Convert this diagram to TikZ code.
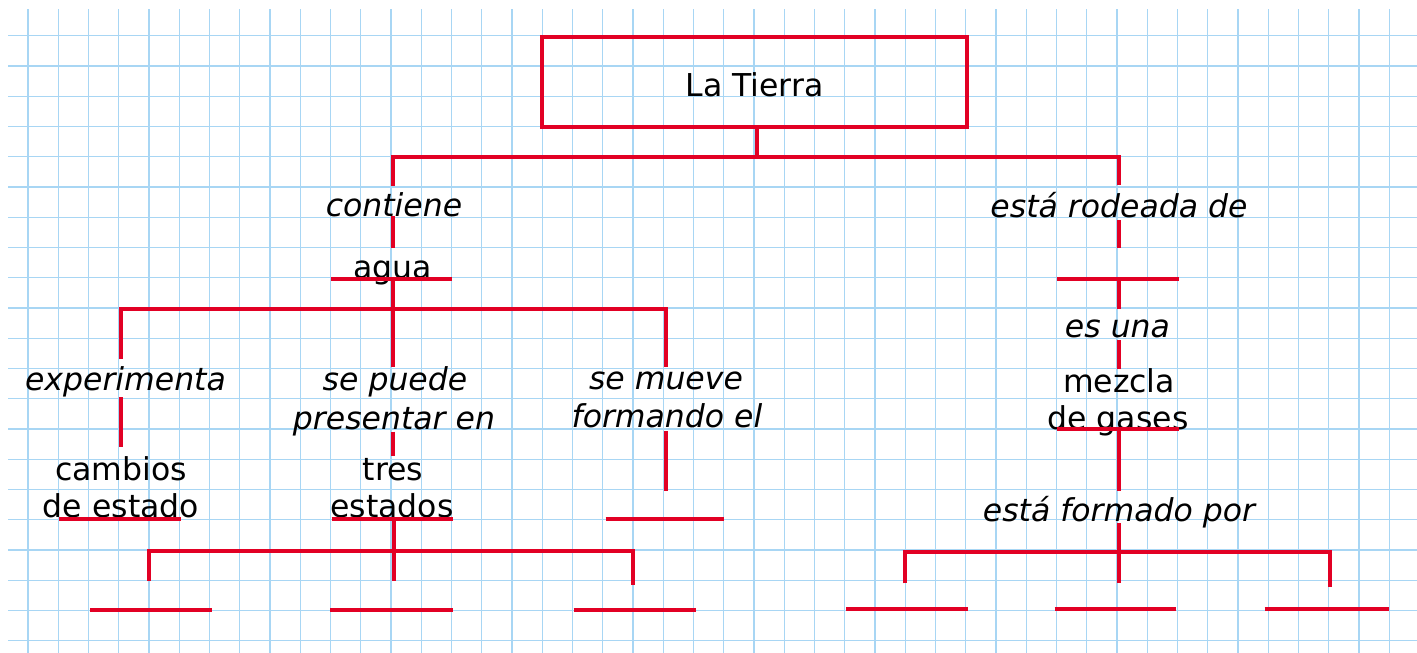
\documentclass[tikz,border=0pt]{standalone}
\usepackage{fontspec}
\setmainfont{DejaVu Sans}
\definecolor{gridblue}{RGB}{168,214,244}
\definecolor{mapred}{RGB}{226,0,36}
\tikzset{
  gridline/.style={draw=gridblue, line width=1.3pt},
  redline/.style={draw=mapred, line width=4pt, line join=miter},
  concept/.style={font=\fontsize{31.5pt}{37pt}\selectfont, inner sep=0pt, anchor=base},
  linkword/.style={concept, font=\fontsize{31.5pt}{37pt}\selectfont\itshape},
}
\begin{document}
\begin{tikzpicture}[x=1pt,y=-1pt]
\useasboundingbox (0,0) rectangle (1417,653);
\fill[white] (0,0) rectangle (1417,653);
% grid
\foreach \k in {0,...,20} {\draw[gridline] (8,35.7+30.25*\k) -- (1417,35.7+30.25*\k);}
\foreach \k in {0,...,45} {\draw[gridline] (28+30.25*\k,9) -- (28+30.25*\k,653);}

% root box
\node[draw=mapred, line width=4pt, minimum width=425pt, minimum height=90pt, inner sep=0pt] (box) at (754.5,82) {};
\node[concept] (tierra) at (754.5,96) {La Tierra};

% text nodes
\node[linkword] (contiene) at (394,216) {contiene};
\node[concept] (agua) at (392.5,278) {agua};
\node[linkword] (experimenta) at (125.5,390) {experimenta};
\node[concept] (cambios) at (121,480) {cambios};
\node[concept] (deestado) at (121,517) {de estado};
\node[linkword] (sepuede) at (395,390) {se puede};
\node[linkword] (presentar) at (394,429) {presentar en};
\node[concept] (tres) at (393,480) {tres};
\node[concept] (estados) at (392,517) {estados};
\node[linkword] (semueve) at (666,389) {se mueve};
\node[linkword] (formando) at (667,427) {formando el};
\node[linkword] (rodeada) at (1119,217) {está rodeada de};
\node[linkword] (esuna) at (1117.5,337) {es una};
\node[concept] (mezcla) at (1119,392) {mezcla};
\node[concept] (gases) at (1118,429) {de gases};
\node[linkword] (formado) at (1119,521) {está formado por};

% left branch
\draw[redline] (756.7,127) -- (756.7,156.7);
\draw[redline] (393.3,185.7) -- (393.3,156.7) -- (1119,156.7) -- (1119,185);
\draw[redline] (393.3,216) -- (393.3,247.7);
\draw[redline] (330.7,279.3) -- (452.3,279.3);
\draw[redline] (393.3,279.3) -- (393.3,308.7);
\draw[redline] (120.7,359) -- (120.7,308.7) -- (665.7,308.7) -- (665.7,367.3);
\draw[redline] (393.3,308.7) -- (393.3,366.7);
\draw[redline] (120.7,397.3) -- (120.7,446.7);
\draw[redline] (59.3,519.3) -- (180.7,519.3);
\draw[redline] (393.3,431.7) -- (393.3,455.7);
\draw[redline] (331.7,519.3) -- (453.3,519.3);
\draw[redline] (665.7,431) -- (665.7,491.3);
\draw[redline] (605.7,519.3) -- (724,519.3);
\draw[redline] (393.5,519.3) -- (393.5,550.7);
\draw[redline] (149,581) -- (149,550.7) -- (633,550.7) -- (633,585);
\draw[redline] (393.5,550.7) -- (393.5,581);
\draw[redline] (90.2,609.7) -- (211.6,609.7);
\draw[redline] (330.4,609.7) -- (452.7,609.7);
\draw[redline] (573.7,609.7) -- (695.5,609.7);

% right branch
\draw[redline] (1119,220) -- (1119,248.3);
\draw[redline] (1056.7,278.7) -- (1179,278.7);
\draw[redline] (1119,278.7) -- (1119,309.3);
\draw[redline] (1119,340) -- (1119,369);
\draw[redline] (1056.7,429.3) -- (1179,429.3);
\draw[redline] (1119,429.3) -- (1119,490.7);
\draw[redline] (1119,523) -- (1119,583.3);
\draw[redline] (905.3,583.3) -- (905.3,551.5) -- (1330,551.5) -- (1330,587.3);
\draw[redline] (846,609.3) -- (967.7,609.3);
\draw[redline] (1054.7,609.3) -- (1176,609.3);
\draw[redline] (1264.7,609.3) -- (1389.3,609.3);
\end{tikzpicture}
\end{document}
